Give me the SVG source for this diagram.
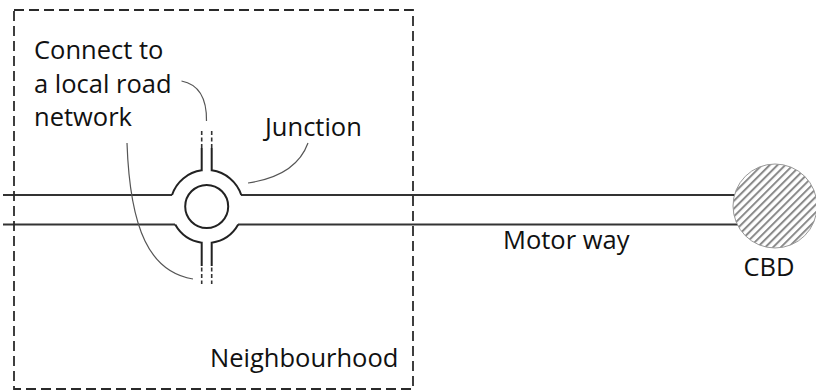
<svg xmlns="http://www.w3.org/2000/svg" width="816" height="392" viewBox="0 0 816 392">
  <style>
    .label { font-family: "Open Sans", "Liberation Sans", sans-serif; font-size: 25.5px; fill: #111; }
    .road { stroke: #333; stroke-width: 2; fill: none; }
    .ring { stroke: #222; stroke-width: 2; fill: none; }
    .leader { stroke: #555; stroke-width: 1.2; fill: none; }
    .stub-dash { stroke: #333; stroke-width: 1.6; stroke-dasharray: 4 2.5; fill: none; }
    .boundary { stroke: #2a2a2a; stroke-width: 1.8; stroke-dasharray: 10 5; fill: none; }
  </style>
  <defs>
    <pattern id="hatch" patternUnits="userSpaceOnUse" width="5.5" height="5.5" patternTransform="rotate(45)">
      <rect width="5.5" height="5.5" fill="#fff"/>
      <rect x="0" y="0" width="2" height="5.5" fill="#8a8a8a"/>
    </pattern>
  </defs>
  <rect width="816" height="392" fill="#fff"/>

  <!-- motorway -->
  <g id="motorway">
    <path class="road" d="M3 195 H172 M241 195 H745"/>
    <path class="road" d="M3 224.5 H175 M238 224.5 H745"/>
    <text class="label" x="503" y="249">Motor way</text>
  </g>

  <!-- roundabout junction with local road stubs -->
  <g id="junction">
    <circle class="ring" cx="206.7" cy="206.5" r="21.5"/>
    <path class="ring" d="M172 195 A36.5 36.5 0 0 1 201.7 170.3 V148"/>
    <path class="ring" d="M211.7 148 V170.3 A36.5 36.5 0 0 1 241.3 195"/>
    <path class="ring" d="M175.2 224.5 A36.5 36.5 0 0 0 201.7 242.7 V266"/>
    <path class="ring" d="M211.7 266 V242.7 A36.5 36.5 0 0 0 238.2 224.5"/>
    <path class="stub-dash" d="M201.7 131 V148 M211.7 131 V148"/>
    <path class="stub-dash" d="M201.7 267.5 V284 M211.7 267.5 V284"/>
    <text class="label" x="265" y="136">Junction</text>
  </g>

  <!-- central business district -->
  <g id="cbd">
    <circle cx="775" cy="206" r="42" fill="url(#hatch)" stroke="#999" stroke-width="1"/>
    <text class="label" x="769" y="276" text-anchor="middle">CBD</text>
  </g>

  <!-- local road note -->
  <g id="local-road-note">
    <text class="label" x="34" y="59">Connect to</text>
    <text class="label" x="34" y="92.5">a local road</text>
    <text class="label" x="34" y="126">network</text>
  </g>

  <!-- neighbourhood boundary -->
  <g id="neighbourhood">
    <rect class="boundary" x="14" y="10" width="399" height="379"/>
    <text class="label" x="210" y="366.5">Neighbourhood</text>
  </g>

  <!-- leader lines -->
  <g id="connectors">
    <path class="leader" d="M181.5 81 Q207 86 206.5 121"/>
    <path class="leader" d="M127 143 C130 230 150 272 193 279"/>
    <path class="leader" d="M308 143 Q296 176 248 183"/>
  </g>
</svg>
